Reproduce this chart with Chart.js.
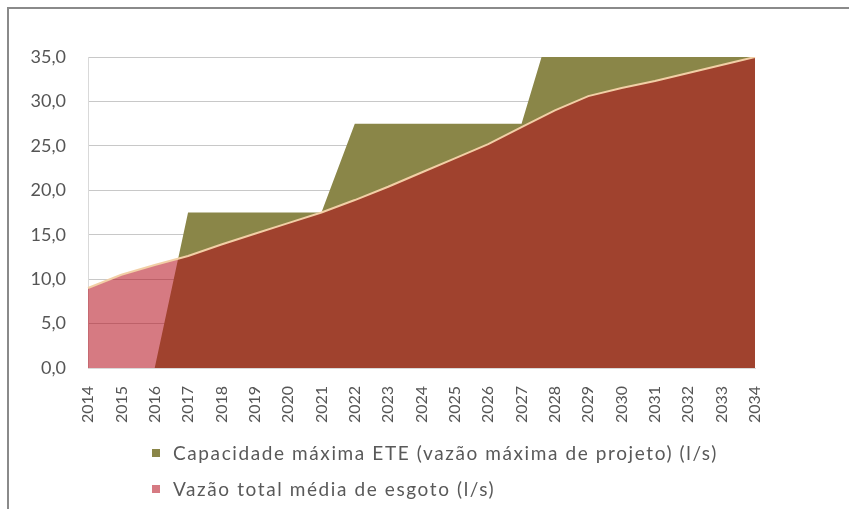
<!DOCTYPE html>
<html>
<head>
<meta charset="utf-8">
<script src="https://cdn.jsdelivr.net/npm/chart.js@4.4.0/dist/chart.umd.min.js"></script>
<style>
  html, body { margin: 0; padding: 0; background: #fff; }
  #wrap { position: relative; width: 849px; height: 509px; overflow: hidden; }
  #frame { position: absolute; left: 7px; top: 7px; right: -10px; bottom: -10px;
           border-top: 2px solid #8a8a8a; border-left: 2px solid #8a8a8a; }
  canvas { position: absolute; left: 0; top: 0; }
  .leg { position: absolute; left: 152px; font-family: Lato, sans-serif; font-size: 19px;
         letter-spacing: 1.6px; color: #595959; white-space: nowrap; line-height: 22px; }
  .leg span { display: inline-block; width: 8px; height: 8px; margin-right: 13px; vertical-align: 3px; }
</style>
</head>
<body>
<div id="wrap">
  <div id="frame"></div>
  <canvas id="myChart" width="849" height="509"></canvas>
  <div id="legend"></div>
</div>
<script>
// anos do horizonte de projeto
const anos = ['2014', '2015', '2016', '2017', '2018', '2019', '2020', '2021', '2022', '2023', '2024',
  '2025', '2026', '2027', '2028', '2029', '2030', '2031', '2032', '2033', '2034'];

// capacidade maxima da ETE (l/s) - acima de 35 fica cortado pelo eixo
const capacidadeETE = [0, 0, 0, 17.5, 17.5, 17.5, 17.5, 17.5, 27.5, 27.5, 27.5, 27.5, 27.5, 27.5,
  40, 40, 40, 40, 40, 40, 40];

// vazao total media de esgoto (l/s)
const vazaoMedia = [9.0, 10.5, 11.6, 12.6, 13.9, 15.1, 16.3, 17.5, 18.9, 20.4, 22.0, 23.6, 25.2,
  27.1, 29.0, 30.6, 31.5, 32.3, 33.2, 34.1, 35.0];

const nomesSeries = ['Capacidade máxima ETE (vazão máxima de projeto) (l/s)', 'Vazão total média de esgoto (l/s)'];
const yTicks = [0, 5, 10, 15, 20, 25, 30, 35];

const corOliva = 'rgb(138, 134, 72)';
const corVazao = 'rgba(179, 9, 24, 0.54)';
const corLegendaVazao = 'rgb(214, 122, 130)';

const ctx = document.getElementById('myChart');
new Chart(ctx, {
  type: 'line',
  data: {
    labels: anos,
    datasets: [{
      label: nomesSeries[0],
      data: capacidadeETE,
      backgroundColor: corOliva,
      borderWidth: 0,
      pointRadius: 0,
      fill: 'origin',
      order: 2
    }, {
      label: nomesSeries[1],
      data: vazaoMedia,
      backgroundColor: corVazao,
      borderColor: '#f2cfa6',
      borderWidth: 2,
      pointRadius: 0,
      fill: 'origin',
      order: 1
    }]
  },
  options: {
    responsive: false,
    animation: false,
    layout: { padding: { left: 8, right: 94, top: 57, bottom: 81 } },
    plugins: {
      legend: { display: false },
      tooltip: { enabled: false }
    },
    scales: {
      x: {
        offset: false,
        grid: { display: false },
        border: { display: true, color: '#d9d9d9' },
        ticks: {
          autoSkip: false,
          minRotation: 90,
          maxRotation: 90,
          padding: 10,
          color: '#555',
          font: { family: 'Lato', size: 16 }
        },
        afterFit: function (scale) { scale.height = 60; }
      },
      y: {
        min: 0,
        max: 35,
        afterBuildTicks: function (scale) {
          scale.ticks = yTicks.map(v => ({ value: v }));
        },
        grid: { color: '#c8c8c8', drawTicks: false },
        border: { display: true, color: '#d9d9d9' },
        ticks: {
          padding: 22,
          color: '#555',
          font: { family: 'Lato', size: 18 },
          callback: function (v) { return v.toFixed(1).replace('.', ','); }
        },
        afterFit: function (scale) { scale.width = 80; }
      }
    }
  }
});

// legenda em duas linhas, alinhada a esquerda
const coresLegenda = [corOliva, corLegendaVazao];
const topos = [442, 478];
const legend = document.getElementById('legend');
nomesSeries.forEach(function (nome, i) {
  const d = document.createElement('div');
  d.className = 'leg';
  d.style.top = topos[i] + 'px';
  d.innerHTML = '<span style="background:' + coresLegenda[i] + '"></span>' + nome;
  legend.appendChild(d);
});
</script>
</body>
</html>
